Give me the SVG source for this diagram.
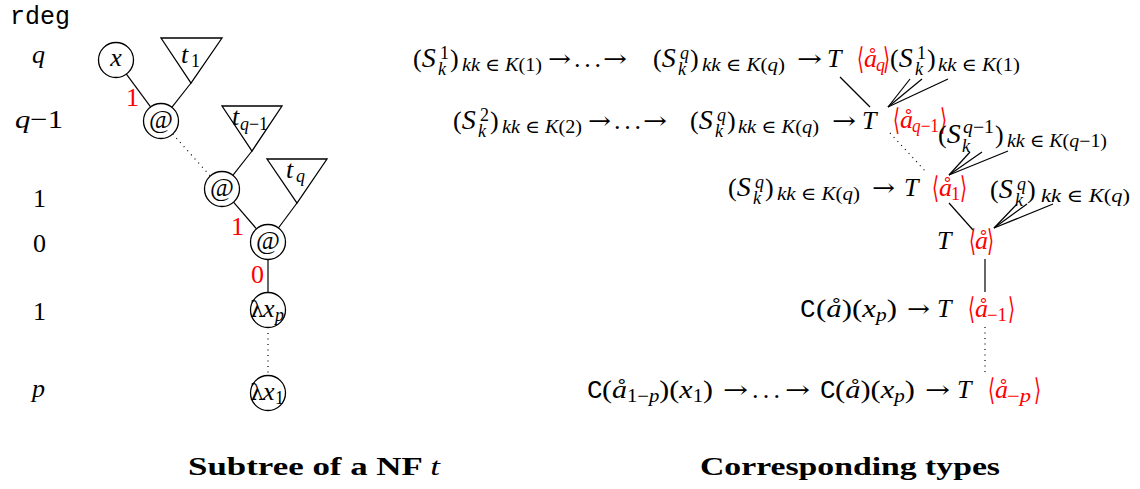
<svg xmlns="http://www.w3.org/2000/svg" width="1140" height="489" viewBox="0 0 1140 489">
<style>
.m{font-family:"Liberation Serif","DejaVu Serif",serif;font-size:26px;fill:#000}
.i{font-style:italic}
.s{font-size:18px}
.S{font-size:28px;font-style:italic}
.r{fill:#ff0000}
.br{font-family:"DejaVu Serif",serif;font-size:30px;fill:#ff0000}
.tt{font-family:"Liberation Mono","DejaVu Sans Mono",monospace}
.ar{font-family:"DejaVu Serif",serif;font-size:24px}
.lam{font-family:"DejaVu Serif",serif;font-size:22px}
.b{font-weight:bold;font-size:26px}
.e{stroke:#000;stroke-width:1.2;fill:none}
.d{stroke:#000;stroke-width:1.2;fill:none;stroke-dasharray:1 4.5}
.c{fill:#fff;stroke:#000;stroke-width:1.3}
.tri{fill:#fff;stroke:#000;stroke-width:1.3}
</style>
<rect width="1140" height="489" fill="#fff"/>

<g id="connectors">
  <line class="e" x1="126.4" y1="74.1" x2="150.6" y2="106.9"/>
  <line class="e" x1="191" y1="83" x2="171.8" y2="107.3"/>
  <line class="d" x1="172.7" y1="134" x2="210.3" y2="176"/>
  <line class="e" x1="252" y1="151" x2="232.8" y2="175.3"/>
  <line class="e" x1="233.5" y1="202.2" x2="256.5" y2="228.8"/>
  <line class="e" x1="297" y1="203" x2="278.4" y2="228"/>
  <line class="e" x1="268" y1="259.5" x2="268" y2="292.5" stroke="#444"/>
  <line class="d" x1="268" y1="333" x2="268" y2="373"/>

  <line class="e" x1="840" y1="77" x2="870" y2="107"/>
  <line class="e" x1="888" y1="107" x2="910" y2="79"/>
  <line class="e" x1="888" y1="107" x2="922" y2="79"/>
  <line class="e" x1="888" y1="107" x2="948" y2="79"/>
  <line class="d" x1="890" y1="133" x2="927" y2="173"/>
  <line class="e" x1="949" y1="175" x2="970" y2="152"/>
  <line class="e" x1="949" y1="175" x2="982" y2="152"/>
  <line class="e" x1="949" y1="175" x2="1008" y2="151"/>
  <line class="e" x1="949" y1="203" x2="973" y2="230"/>
  <line class="e" x1="994" y1="228" x2="1017" y2="204"/>
  <line class="e" x1="994" y1="228" x2="1027" y2="204"/>
  <line class="e" x1="994" y1="228" x2="1053" y2="204"/>
  <line class="e" x1="985" y1="259" x2="985" y2="292"/>
  <line class="d" x1="985" y1="327" x2="985" y2="373"/>

  <text class="m r" x="126" y="106" font-size="21">1</text>
  <text class="m r" x="231" y="235" font-size="21">1</text>
  <text class="m r" x="251" y="283" font-size="21">0</text>
</g>

<g id="rdeg-labels">
  <text class="m tt" x="10" y="24" font-size="23" textLength="60" lengthAdjust="spacingAndGlyphs">rdeg</text>
  <text class="m i" x="32" y="63">q</text>
  <text class="m" x="15" y="128" textLength="48" lengthAdjust="spacingAndGlyphs"><tspan class="i">q</tspan>−1</text>
  <text class="m" x="33" y="207">1</text>
  <text class="m" x="33" y="252">0</text>
  <text class="m" x="33" y="320">1</text>
  <text class="m i" x="32" y="397">p</text>
</g>

<g id="node-x"><circle class="c" cx="116" cy="60" r="17.5"/><text class="m i" x="116" y="66" text-anchor="middle">x</text></g>
<g id="tree-t1"><polygon class="tri" points="161,38 222,38 191,83"/><text class="m i" x="181" y="63">t</text><text class="m s" x="191" y="67">1</text></g>
<g id="node-app1"><circle class="c" cx="161" cy="121" r="17.5"/><text class="m" x="161" y="128" text-anchor="middle" font-size="21">@</text></g>
<g id="tree-tq1"><polygon class="tri" points="222,106 282,106 252,151"/><text class="m i" x="232" y="125">t</text><text class="m s" x="240" y="130" textLength="28" lengthAdjust="spacingAndGlyphs"><tspan class="i">q</tspan>−1</text></g>
<g id="node-app2"><circle class="c" cx="222" cy="189" r="17.5"/><text class="m" x="222" y="196" text-anchor="middle" font-size="21">@</text></g>
<g id="tree-tq"><polygon class="tri" points="267,159 327,159 297,203"/><text class="m i" x="286" y="178">t</text><text class="m s i" x="296" y="182">q</text></g>
<g id="node-app3"><circle class="c" cx="268" cy="242" r="17.5"/><text class="m" x="268" y="249" text-anchor="middle" font-size="21">@</text></g>
<g id="node-lamp"><circle class="c" cx="268" cy="310" r="17.5"/><text class="lam" x="250" y="317">λ</text><text class="m i" x="263" y="317">x</text><text class="m s i" x="275" y="321">p</text></g>
<g id="node-lam1"><circle class="c" cx="268" cy="393" r="17.5"/><text class="lam" x="250" y="400">λ</text><text class="m i" x="263" y="400">x</text><text class="m s" x="275" y="404">1</text></g>

<g id="type-row1">
  <text class="m" x="413" y="67">(<tspan class="S">S</tspan></text>
  <text class="m s" x="440" y="59">1</text><text class="m s i" x="438" y="75">k</text>
  <text class="m" x="450" y="67">)</text>
  <text class="m s" x="462" y="71" textLength="80" lengthAdjust="spacingAndGlyphs"><tspan class="i">kk</tspan> ∈ <tspan class="i">K</tspan>(1)</text>
  <text class="ar" x="548" y="67" textLength="23" lengthAdjust="spacingAndGlyphs">→</text>
  <text class="m" x="574" y="67" textLength="27" lengthAdjust="spacing">. . .</text>
  <text class="ar" x="603" y="67" textLength="24" lengthAdjust="spacingAndGlyphs">→</text>
  <text class="m" x="653" y="67">(<tspan class="S">S</tspan></text>
  <text class="m s i" x="680" y="59">q</text><text class="m s i" x="678" y="75">k</text>
  <text class="m" x="690" y="67">)</text>
  <text class="m s" x="702" y="71" textLength="83" lengthAdjust="spacingAndGlyphs"><tspan class="i">kk</tspan> ∈ <tspan class="i">K</tspan>(<tspan class="i">q</tspan>)</text>
  <text class="ar" x="797" y="67" textLength="25" lengthAdjust="spacingAndGlyphs">→</text>
  <text class="m i" x="827" y="67">T</text>
  <g id="label-aq">
    <text class="br" x="857" y="69" textLength="7" lengthAdjust="spacingAndGlyphs">⟨</text>
    <text class="m r i" x="864" y="67">å</text>
    <text class="m r s i" x="876" y="71">q</text>
    <text class="br" x="883" y="69" textLength="7" lengthAdjust="spacingAndGlyphs">⟩</text>
  </g>
  <text class="m" x="890" y="67">(<tspan class="S">S</tspan></text>
  <text class="m s" x="917" y="59">1</text><text class="m s i" x="915" y="75">k</text>
  <text class="m" x="927" y="67">)</text>
  <text class="m s" x="938" y="71" textLength="82" lengthAdjust="spacingAndGlyphs"><tspan class="i">kk</tspan> ∈ <tspan class="i">K</tspan>(1)</text>
</g>

<g id="type-row2">
  <text class="m" x="453" y="129">(<tspan class="S">S</tspan></text>
  <text class="m s" x="480" y="121">2</text><text class="m s i" x="478" y="137">k</text>
  <text class="m" x="490" y="129">)</text>
  <text class="m s" x="502" y="133" textLength="80" lengthAdjust="spacingAndGlyphs"><tspan class="i">kk</tspan> ∈ <tspan class="i">K</tspan>(2)</text>
  <text class="ar" x="588" y="129" textLength="23" lengthAdjust="spacingAndGlyphs">→</text>
  <text class="m" x="614" y="129" textLength="27" lengthAdjust="spacing">. . .</text>
  <text class="ar" x="643" y="129" textLength="24" lengthAdjust="spacingAndGlyphs">→</text>
  <text class="m" x="690" y="129">(<tspan class="S">S</tspan></text>
  <text class="m s i" x="717" y="121">q</text><text class="m s i" x="715" y="137">k</text>
  <text class="m" x="727" y="129">)</text>
  <text class="m s" x="738" y="133" textLength="81" lengthAdjust="spacingAndGlyphs"><tspan class="i">kk</tspan> ∈ <tspan class="i">K</tspan>(<tspan class="i">q</tspan>)</text>
  <text class="ar" x="832" y="129" textLength="24" lengthAdjust="spacingAndGlyphs">→</text>
  <text class="m i" x="862" y="129">T</text>
  <g id="label-aq1">
    <text class="br" x="893" y="130" textLength="7" lengthAdjust="spacingAndGlyphs">⟨</text>
    <text class="m r i" x="900" y="128">å</text>
    <text class="m r s" x="912" y="132" textLength="27" lengthAdjust="spacingAndGlyphs"><tspan class="i">q</tspan>−1</text>
    <text class="br" x="940" y="130" textLength="7" lengthAdjust="spacingAndGlyphs">⟩</text>
  </g>
  <text class="m" x="938" y="143">(<tspan class="S">S</tspan></text>
  <text class="m s" x="963" y="133" textLength="31" lengthAdjust="spacingAndGlyphs"><tspan class="i">q</tspan>−1</text><text class="m s i" x="962" y="152">k</text>
  <text class="m" x="995" y="143">)</text>
  <text class="m s" x="1007" y="147" textLength="100" lengthAdjust="spacingAndGlyphs"><tspan class="i">kk</tspan> ∈ <tspan class="i">K</tspan>(<tspan class="i">q</tspan>−1)</text>
</g>

<g id="type-row3">
  <text class="m" x="728" y="196">(<tspan class="S">S</tspan></text>
  <text class="m s i" x="755" y="188">q</text><text class="m s i" x="753" y="204">k</text>
  <text class="m" x="765" y="196">)</text>
  <text class="m s" x="777" y="200" textLength="83" lengthAdjust="spacingAndGlyphs"><tspan class="i">kk</tspan> ∈ <tspan class="i">K</tspan>(<tspan class="i">q</tspan>)</text>
  <text class="ar" x="872" y="196" textLength="23" lengthAdjust="spacingAndGlyphs">→</text>
  <text class="m i" x="904" y="196">T</text>
  <g id="label-a1">
    <text class="br" x="932" y="198" textLength="7" lengthAdjust="spacingAndGlyphs">⟨</text>
    <text class="m r i" x="939" y="196">å</text>
    <text class="m r s" x="951" y="200">1</text>
    <text class="br" x="960" y="198" textLength="7" lengthAdjust="spacingAndGlyphs">⟩</text>
  </g>
  <text class="m" x="990" y="198">(<tspan class="S">S</tspan></text>
  <text class="m s i" x="1017" y="190">q</text><text class="m s i" x="1015" y="206">k</text>
  <text class="m" x="1027" y="198">)</text>
  <text class="m s" x="1041" y="202" textLength="89" lengthAdjust="spacingAndGlyphs"><tspan class="i">kk</tspan> ∈ <tspan class="i">K</tspan>(<tspan class="i">q</tspan>)</text>
</g>

<g id="type-row4">
  <text class="m i" x="937" y="249">T</text>
  <g id="label-a">
    <text class="br" x="969" y="251" textLength="7" lengthAdjust="spacingAndGlyphs">⟨</text>
    <text class="m r i" x="975" y="249">å</text>
    <text class="br" x="987" y="251" textLength="7" lengthAdjust="spacingAndGlyphs">⟩</text>
  </g>
</g>

<g id="type-row5">
  <text class="m tt" x="800" y="317">C</text>
  <text class="m" x="816" y="317" textLength="81" lengthAdjust="spacingAndGlyphs">(<tspan class="i">å</tspan>)(<tspan class="i">x</tspan><tspan class="s i" dy="4">p</tspan><tspan dy="-4">)</tspan></text>
  <text class="ar" x="907" y="317" textLength="23" lengthAdjust="spacingAndGlyphs">→</text>
  <text class="m i" x="937" y="317">T</text>
  <g id="label-am1">
    <text class="br" x="968" y="319" textLength="7" lengthAdjust="spacingAndGlyphs">⟨</text>
    <text class="m r i" x="975" y="317">å</text>
    <text class="m r s" x="987" y="321" textLength="20" lengthAdjust="spacingAndGlyphs">−1</text>
    <text class="br" x="1008" y="319" textLength="7" lengthAdjust="spacingAndGlyphs">⟩</text>
  </g>
</g>

<g id="type-row6">
  <text class="m tt" x="587" y="398">C</text>
  <text class="m" x="602" y="398" textLength="111" lengthAdjust="spacingAndGlyphs">(<tspan class="i">å</tspan><tspan class="s" dy="4">1−<tspan class="i">p</tspan></tspan><tspan dy="-4">)(</tspan><tspan class="i">x</tspan><tspan class="s" dy="4">1</tspan><tspan dy="-4">)</tspan></text>
  <text class="ar" x="723" y="398" textLength="25" lengthAdjust="spacingAndGlyphs">→</text>
  <text class="m" x="752" y="398" textLength="28" lengthAdjust="spacing">. . .</text>
  <text class="ar" x="785" y="398" textLength="25" lengthAdjust="spacingAndGlyphs">→</text>
  <text class="m tt" x="820" y="398">C</text>
  <text class="m" x="835" y="398" textLength="80" lengthAdjust="spacingAndGlyphs">(<tspan class="i">å</tspan>)(<tspan class="i">x</tspan><tspan class="s i" dy="4">p</tspan><tspan dy="-4">)</tspan></text>
  <text class="ar" x="925" y="398" textLength="25" lengthAdjust="spacingAndGlyphs">→</text>
  <text class="m i" x="957" y="398">T</text>
  <g id="label-amp">
    <text class="br" x="988" y="400" textLength="7" lengthAdjust="spacingAndGlyphs">⟨</text>
    <text class="m r i" x="995" y="398">å</text>
    <text class="m r s" x="1007" y="402" textLength="24" lengthAdjust="spacingAndGlyphs">−<tspan class="i">p</tspan></text>
    <text class="br" x="1034" y="400" textLength="7" lengthAdjust="spacingAndGlyphs">⟩</text>
  </g>
</g>

<g id="captions">
  <text class="m b" x="188" y="475" textLength="252" lengthAdjust="spacingAndGlyphs">Subtree of a NF <tspan class="i" font-weight="normal">t</tspan></text>
  <text class="m b" x="700" y="475" textLength="300" lengthAdjust="spacingAndGlyphs">Corresponding types</text>
</g>
</svg>
